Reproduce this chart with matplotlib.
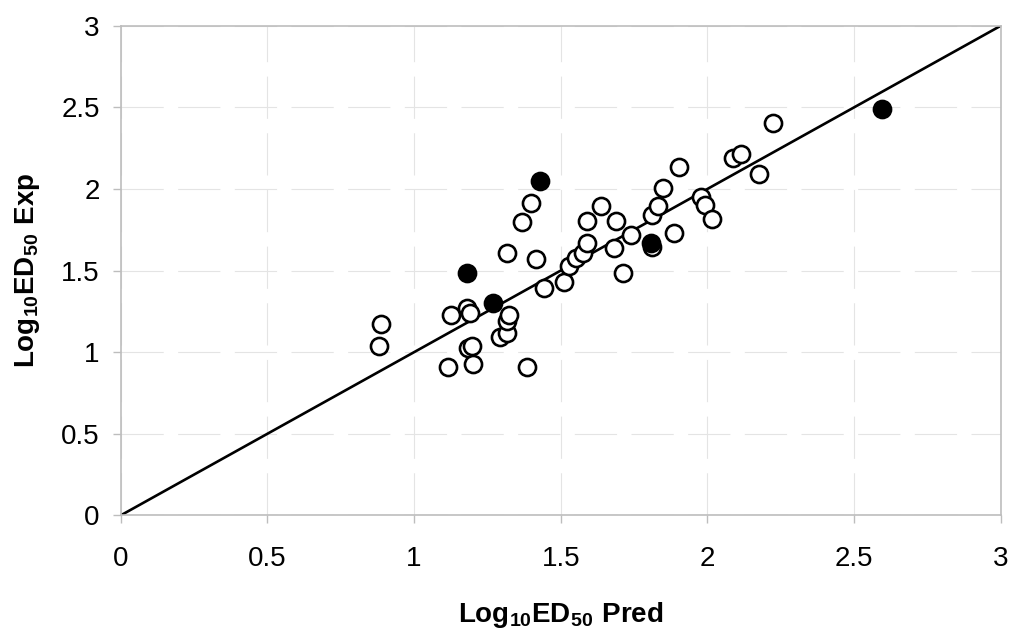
import numpy as np
import matplotlib
matplotlib.use("Agg")
import matplotlib.pyplot as plt

plt.rcParams.update({
    "font.family":        "Liberation Sans",
    "mathtext.fontset":   "custom",
    "mathtext.rm":        "Liberation Sans",
    "mathtext.bf":        "Liberation Sans:bold",
    "font.size":          20,
})

# open circles: (pred, exp)
open_pred = [0.882, 0.886, 1.117, 1.125, 1.180, 1.191, 1.185, 1.197, 1.200,
             1.293, 1.316, 1.318, 1.324, 1.384, 1.316, 1.369, 1.399, 1.415,
             1.444, 1.511, 1.529, 1.552, 1.577, 1.588, 1.588, 1.636, 1.681,
             1.688, 1.711, 1.738, 1.810, 1.810, 1.832, 1.847, 1.887, 1.902,
             1.978, 1.990, 2.014, 2.086, 2.115, 2.175, 2.222]
open_exp  = [1.038, 1.173, 0.911, 1.228, 1.273, 1.238, 1.024, 1.038, 0.926,
             1.095, 1.116, 1.190, 1.228, 0.911, 1.609, 1.800, 1.912, 1.569,
             1.391, 1.430, 1.530, 1.579, 1.609, 1.671, 1.803, 1.897, 1.638,
             1.803, 1.487, 1.720, 1.840, 1.646, 1.897, 2.007, 1.732, 2.132,
             1.948, 1.900, 1.814, 2.187, 2.214, 2.091, 2.405]

# filled circles
fill_pred = [1.180, 1.270, 1.429, 1.806, 2.594]
fill_exp  = [1.487, 1.300, 2.048, 1.667, 2.489]

# identity line
line_x = [0, 3]
line_y = [0, 3]

ticks = [0, 0.5, 1, 1.5, 2, 2.5, 3]
tick_labels = ["0", "0.5", "1", "1.5", "2", "2.5", "3"]

fig = plt.figure(figsize=(10.24, 6.41), dpi=100)
ax = fig.add_axes([0.1177, 0.1958, 0.8598, 0.7642])

ax.plot(line_x, line_y, "k-", lw=1.9, zorder=2)
ax.plot(open_pred, open_exp, "o", ms=12.3, mfc="white", mec="black",
        mew=1.9, ls="none", zorder=3)
ax.plot(fill_pred, fill_exp, "o", ms=12.3, mfc="black", mec="black",
        mew=1.9, ls="none", zorder=4)

ax.set_xlim(0, 3)
ax.set_ylim(0, 3)
ax.set_xticks(ticks)
ax.set_xticklabels(tick_labels)
ax.set_yticks(ticks)
ax.set_yticklabels(tick_labels)

ax.grid(True, color="#e4e4e4", lw=0.8, ls=(0, (38, 13)), zorder=0)
for sp in ax.spines.values():
    sp.set_color("#bdbdbd")
    sp.set_linewidth(1.2)
ax.tick_params(direction="out", length=6, width=1, color="#bdbdbd",
               labelsize=20)
ax.tick_params(axis="x", pad=16)
ax.tick_params(axis="y", pad=9)

ax.set_xlabel(r"$\mathbf{Log_{10}ED_{50}\ Pred}$", fontsize=20, labelpad=20)
ax.set_ylabel(r"$\mathbf{Log_{10}ED_{50}\ Exp}$", fontsize=20, labelpad=14)

fig.savefig("out.png", dpi=100)
